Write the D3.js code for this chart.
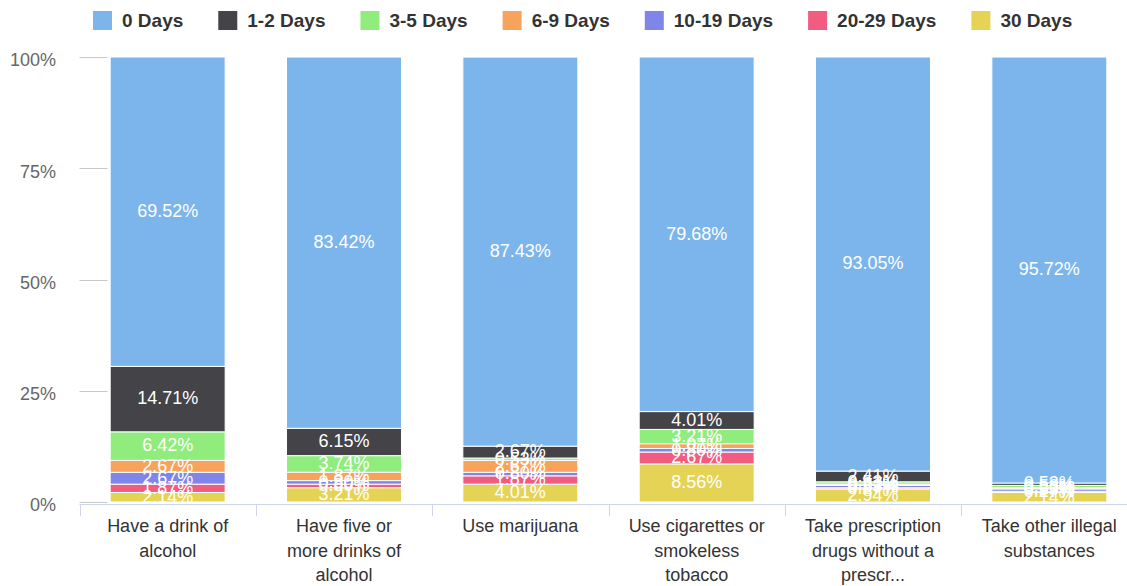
<!DOCTYPE html>
<html>
<head>
<meta charset="utf-8">
<script src="https://cdn.jsdelivr.net/npm/d3@7"></script>
<style>
  body { margin: 0; background: #fff; }
  svg { display: block; font-family: "Liberation Sans", Arial, sans-serif; }
</style>
</head>
<body>
<svg id="chart" width="1127" height="586"></svg>
<script>
// categories, one array of lines per x label
var categories = [
  ["Have a drink of", "alcohol"],
  ["Have five or", "more drinks of", "alcohol"],
  ["Use marijuana"],
  ["Use cigarettes or", "smokeless", "tobacco"],
  ["Take prescription", "drugs without a", "prescr..."],
  ["Take other illegal", "substances"]
];

var seriesNames = ["0 Days", "1-2 Days", "3-5 Days", "6-9 Days", "10-19 Days", "20-29 Days", "30 Days"];
var seriesColors = ["#7cb5ec", "#434348", "#90ed7d", "#f7a35c", "#8085e9", "#f15c80", "#e4d354"];

// percent of respondents per category
var days0      = [69.52, 83.42, 87.43, 79.68, 93.05, 95.72];
var days1to2   = [14.71, 6.15, 2.67, 4.01, 2.41, 0.53];
var days3to5   = [6.42, 3.74, 0.53, 3.21, 0.53, 0.53];
var days6to9   = [2.67, 1.87, 2.67, 1.07, 0.27, 0.27];
var days10to19 = [2.67, 0.80, 0.80, 0.80, 0.53, 0.53];
var days20to29 = [1.87, 0.80, 1.87, 2.67, 0.27, 0.27];
var days30     = [2.14, 3.21, 4.01, 8.56, 2.94, 2.14];

var yTicks = [0, 25, 50, 75, 100];

var seriesValues = [days0, days1to2, days3to5, days6to9, days10to19, days20to29, days30];

var svg = d3.select("#chart");
var plotLeft = 79.5, plotRight = 1137.5, plotTop = 57, plotBottom = 502;

var x = d3.scaleBand()
  .domain(d3.range(categories.length))
  .range([plotLeft, plotRight])
  .paddingInner(0.348)
  .paddingOuter(0.174);

var y = d3.scaleLinear().domain([0, 100]).range([plotBottom, plotTop]);

// y axis: labels and short ticks
var yAxis = svg.append("g");
yTicks.forEach(function (t) {
  yAxis.append("line")
    .attr("x1", plotLeft).attr("x2", plotLeft + 28)
    .attr("y1", Math.round(y(t)) + 0.5).attr("y2", Math.round(y(t)) + 0.5)
    .attr("stroke", "#c8c8c8").attr("stroke-width", 1);
  yAxis.append("text")
    .attr("x", 56).attr("y", y(t) + 3)
    .attr("dy", "0.35em")
    .attr("text-anchor", "end")
    .attr("font-size", 18)
    .attr("fill", "#666")
    .text(t + "%");
});

// build stacked rows, bottom series is "30 Days"
var rows = categories.map(function (c, i) {
  var r = { i: i };
  seriesNames.forEach(function (n, s) { r[n] = seriesValues[s][i]; });
  return r;
});
var stack = d3.stack().keys(seriesNames.slice().reverse());
var layers = stack(rows);

var barG = svg.append("g");
layers.forEach(function (layer) {
  var idx = seriesNames.indexOf(layer.key);
  barG.selectAll(null).data(layer).enter().append("rect")
    .attr("x", function (d) { return x(d.data.i); })
    .attr("width", x.bandwidth())
    .attr("y", function (d) { return y(d[1]); })
    .attr("height", function (d) { return Math.max(0, y(d[0]) - y(d[1])); })
    .attr("fill", seriesColors[idx])
    .attr("stroke", "#fff")
    .attr("stroke-width", 1);
});

// data labels
var labelG = svg.append("g");
layers.forEach(function (layer) {
  labelG.selectAll(null).data(layer.filter(function (d) { return d[1] - d[0] > 0; })).enter().append("text")
    .attr("x", function (d) { return x(d.data.i) + x.bandwidth() / 2; })
    .attr("y", function (d) { return (y(d[0]) + y(d[1])) / 2 - 1; })
    .attr("dy", "0.35em")
    .attr("text-anchor", "middle")
    .attr("font-size", 18)
    .attr("fill", "#fff")
    .text(function (d) { return (d[1] - d[0]).toFixed(2) + "%"; });
});

// x axis line, category ticks and wrapped labels
var xAxis = svg.append("g");
xAxis.append("line")
  .attr("x1", plotLeft).attr("x2", plotRight)
  .attr("y1", plotBottom + 2.5).attr("y2", plotBottom + 2.5)
  .attr("stroke", "#ccd6eb");
d3.range(categories.length + 1).forEach(function (k) {
  var xx = Math.round(plotLeft + k * x.step()) + 0.5;
  xAxis.append("line")
    .attr("x1", xx).attr("x2", xx)
    .attr("y1", plotBottom + 2).attr("y2", plotBottom + 14)
    .attr("stroke", "#ccd6eb");
});
categories.forEach(function (lines, i) {
  var t = xAxis.append("text")
    .attr("text-anchor", "middle")
    .attr("font-size", 18)
    .attr("fill", "#333");
  lines.forEach(function (ln, j) {
    t.append("tspan")
      .attr("x", x(i) + x.bandwidth() / 2)
      .attr("y", 532 + j * 24.5)
      .text(ln);
  });
});

// legend
var legend = svg.append("g");
var lx = 93;
seriesNames.forEach(function (n, s) {
  legend.append("rect")
    .attr("x", lx).attr("y", 11)
    .attr("width", 19).attr("height", 19)
    .attr("fill", seriesColors[s]);
  var txt = legend.append("text")
    .attr("x", lx + 29).attr("y", 27)
    .attr("font-size", 19)
    .attr("font-weight", "bold")
    .attr("fill", "#333")
    .text(n);
  lx += 29 + txt.node().getComputedTextLength() + 35;
});
</script>
</body>
</html>
